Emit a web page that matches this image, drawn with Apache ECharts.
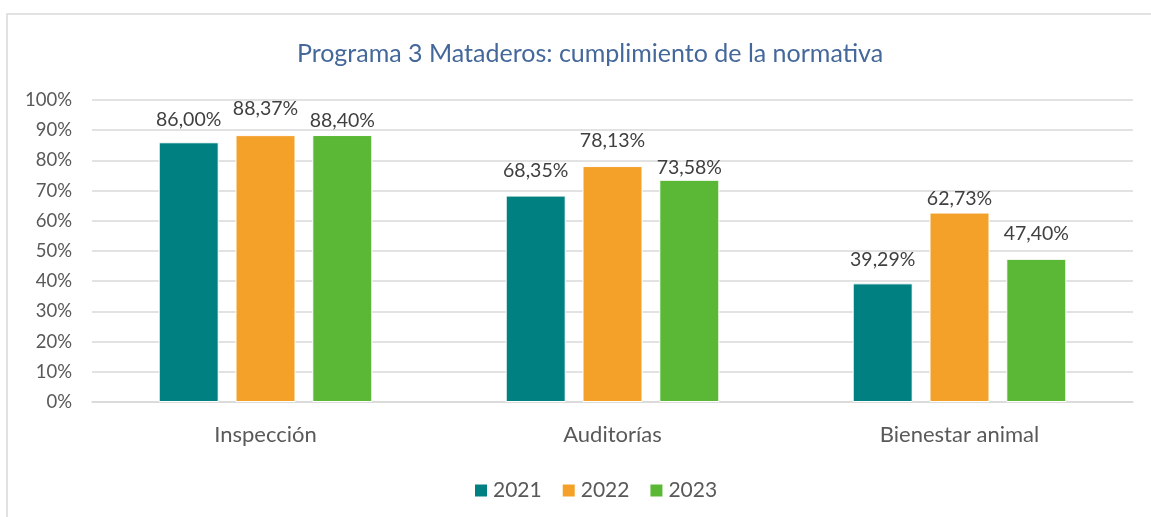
<!DOCTYPE html>
<html lang="es">
<head>
<meta charset="UTF-8">
<title>Programa 3 Mataderos</title>
<script src="https://cdn.jsdelivr.net/npm/echarts@6/dist/echarts.min.js"></script>
<style>
  html, body { margin: 0; padding: 0; background: #fff; }
  #chart { width: 1151px; height: 517px; }
</style>
</head>
<body>
<div id="chart"></div>
<script>
// datos del gráfico
var categorias = ['Inspección', 'Auditorías', 'Bienestar animal'];
var anios = ['2021', '2022', '2023'];
var v2021 = [86.00, 68.35, 39.29];
var v2022 = [88.37, 78.13, 62.73];
var v2023 = [88.40, 73.58, 47.40];
var ticksY = [0, 10, 20, 30, 40, 50, 60, 70, 80, 90, 100];

var colores = ['#008080', '#F4A12A', '#5AB836'];
// distancia de cada etiqueta sobre la barra (Excel las mueve para que no se pisen)
var distEtiq = [[13, 16, 4], [15, 15, 2], [14, 4, 15]];

var font = 'Lato, "Open Sans", sans-serif';
var chart = echarts.init(document.getElementById('chart'));

function pct(v) {
    return v.toFixed(2).replace('.', ',') + '%';
}

var series = [v2021, v2022, v2023].map(function (vals, s) {
    return {
        name: anios[s],
        type: 'bar',
        barWidth: 60,
        barGap: '28%',
        itemStyle: { color: colores[s], borderColor: '#ffffff', borderWidth: 1 },
        data: vals.map(function (v, i) {
            return {
                value: v,
                label: { distance: distEtiq[i][s] }
            };
        }),
        label: {
            show: true,
            position: 'top',
            color: '#404040',
            fontFamily: font,
            fontSize: 19.5,
            formatter: function (p) { return pct(p.value); }
        }
    };
});

chart.setOption({
    animation: false,
    textStyle: { fontFamily: font },
    title: {
        text: 'Programa 3 Mataderos: cumplimiento de la normativa',
        left: 585,
        textAlign: 'center',
        top: 36,
        textStyle: { color: '#44689A', fontSize: 25, fontWeight: 'normal', fontFamily: font }
    },
    legend: {
        data: anios,
        top: 475,
        left: 468,
        icon: 'rect',
        itemWidth: 14,
        itemHeight: 14,
        itemGap: 19,
        textStyle: { color: '#595959', fontSize: 21, fontFamily: font }
    },
    grid: { left: 92, right: 18, top: 100, bottom: 115 },
    xAxis: {
        type: 'category',
        data: categorias,
        axisTick: { show: false },
        axisLine: { lineStyle: { color: '#D9D9D9', width: 1.5 } },
        axisLabel: { color: '#595959', fontSize: 22, margin: 22, fontFamily: font }
    },
    yAxis: {
        type: 'value',
        min: ticksY[0],
        max: ticksY[ticksY.length - 1],
        interval: 10,
        axisLine: { show: false },
        axisTick: { show: false },
        splitLine: { lineStyle: { color: '#D9D9D9', width: 1.5 } },
        axisLabel: { color: '#595959', fontSize: 18.5, margin: 20, fontFamily: font, formatter: '{value}%' }
    },
    graphic: [{
        type: 'rect',
        shape: { x: 7, y: 14, width: 1200, height: 600 },
        style: { fill: null, stroke: '#D9D9D9', lineWidth: 1.5 },
        silent: true
    }],
    series: series
});
</script>
</body>
</html>
